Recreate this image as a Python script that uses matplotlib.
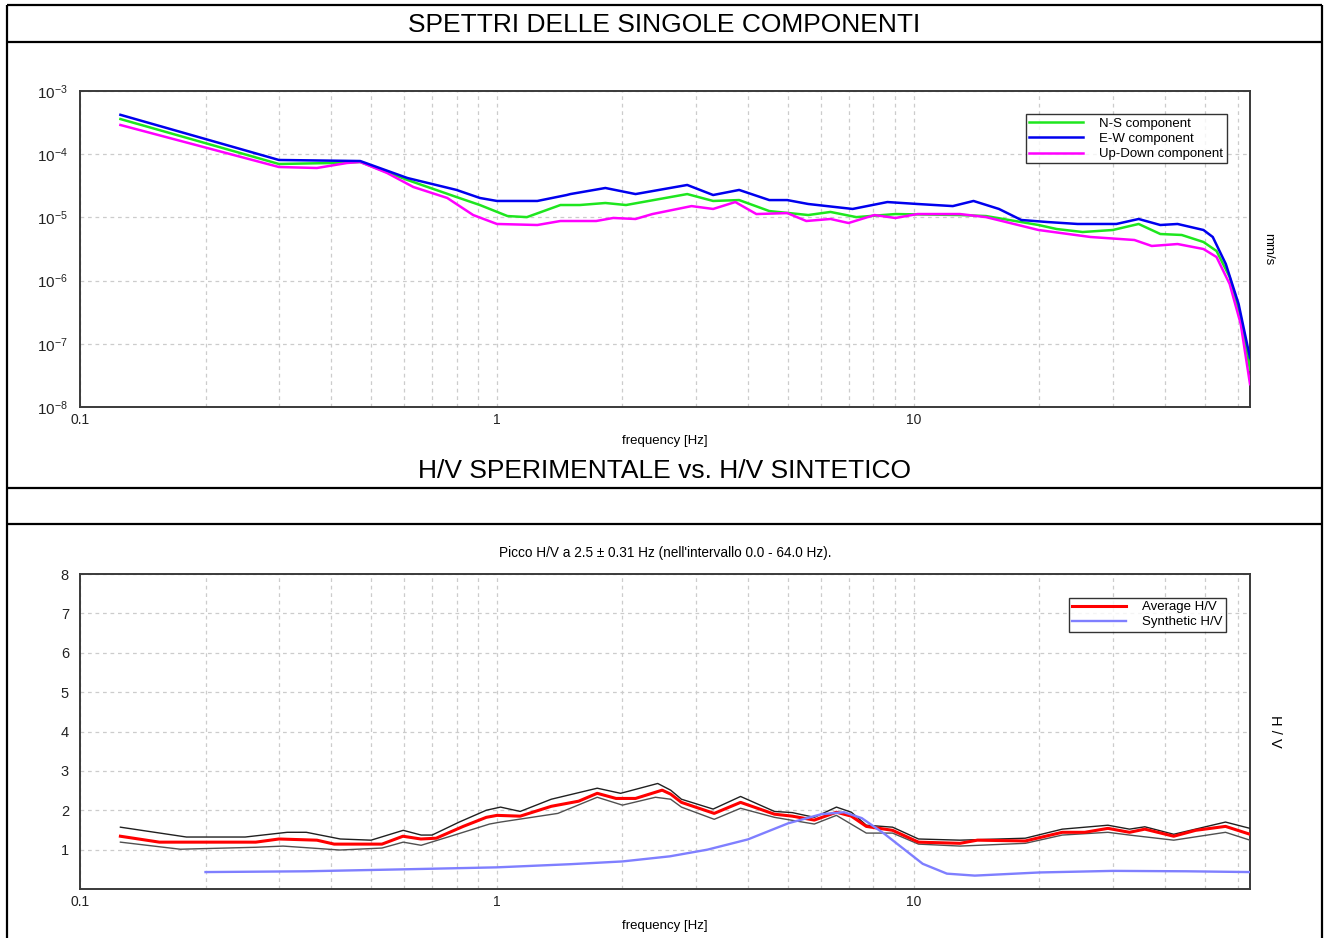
import matplotlib
matplotlib.use("Agg")
import matplotlib.pyplot as plt
from matplotlib.lines import Line2D
from matplotlib.ticker import LogLocator, FixedLocator, NullFormatter, FuncFormatter, NullLocator
import numpy as np

plt.rcParams['font.family'] = ['Liberation Sans', 'DejaVu Sans']
plt.rcParams['mathtext.fontset'] = 'custom'
plt.rcParams['mathtext.rm'] = 'Liberation Sans'
plt.rcParams['mathtext.it'] = 'Liberation Sans'

# ---------------- data: single component spectra (mm/s) ----------------
ew_freq = [0.125, 0.30, 0.47, 0.61, 0.80, 0.91, 1.0, 1.25, 1.47, 1.50, 1.82, 2.15, 2.86, 3.30, 3.81,
           4.50, 4.97, 5.58, 7.13, 8.64, 10.2, 12.4, 13.9, 16.0, 18.1, 20.9, 24.7, 30.6, 34.6, 39.0,
           42.9, 49.5, 52.1, 56.0, 60.1, 64.0]
ew_amp = [4.2e-4, 8.1e-5, 7.8e-5, 4.2e-5, 2.72e-5, 2.03e-5, 1.82e-5, 1.82e-5, 2.26e-5, 2.34e-5,
          2.92e-5, 2.34e-5, 3.26e-5, 2.26e-5, 2.72e-5, 1.88e-5, 1.88e-5, 1.63e-5, 1.36e-5, 1.75e-5,
          1.63e-5, 1.51e-5, 1.82e-5, 1.36e-5, 9.1e-6, 8.45e-6, 7.87e-6, 7.87e-6, 9.44e-6, 7.58e-6,
          7.87e-6, 6.32e-6, 4.9e-6, 1.83e-6, 4.26e-7, 6.0e-8]

ns_freq = [0.125, 0.30, 0.405, 0.47, 0.61, 0.80, 0.91, 1.06, 1.18, 1.42, 1.58, 1.82, 2.04, 2.86,
           3.30, 3.81, 4.50, 5.58, 6.31, 7.28, 9.03, 12.9, 14.9, 19.9, 22.0, 25.4, 30.0, 34.6, 39.0,
           43.9, 49.5, 53.2, 57.2, 60.8, 64.0]
ns_amp = [3.6e-4, 7.0e-5, 7.26e-5, 7.53e-5, 3.91e-5, 2.10e-5, 1.57e-5, 1.05e-5, 1.01e-5, 1.57e-5,
          1.57e-5, 1.69e-5, 1.57e-5, 2.34e-5, 1.82e-5, 1.88e-5, 1.26e-5, 1.09e-5, 1.22e-5, 1.01e-5,
          1.13e-5, 1.09e-5, 1.05e-5, 7.58e-6, 6.55e-6, 5.87e-6, 6.32e-6, 7.87e-6, 5.46e-6, 5.27e-6,
          4.08e-6, 2.94e-6, 1.14e-6, 2.66e-7, 3.9e-8]

ud_freq = [0.125, 0.30, 0.37, 0.437, 0.47, 0.545, 0.63, 0.76, 0.877, 1.0, 1.25, 1.42, 1.73, 1.90,
           2.15, 2.36, 2.93, 3.30, 3.73, 4.19, 4.97, 5.52, 6.31, 6.97, 8.04, 9.03, 10.2, 12.9, 14.9,
           19.9, 26.5, 33.8, 37.2, 42.9, 49.5, 53.2, 57.2, 60.8, 64.0]
ud_amp = [2.9e-4, 6.27e-5, 6.05e-5, 7.26e-5, 7.53e-5, 5.05e-5, 3.03e-5, 2.03e-5, 1.09e-5, 7.87e-6,
          7.58e-6, 8.77e-6, 8.77e-6, 9.79e-6, 9.44e-6, 1.13e-5, 1.51e-5, 1.36e-5, 1.75e-5, 1.13e-5,
          1.17e-5, 8.77e-6, 9.44e-6, 8.15e-6, 1.09e-5, 9.79e-6, 1.13e-5, 1.13e-5, 1.01e-5, 6.32e-6,
          4.9e-6, 4.39e-6, 3.53e-6, 3.79e-6, 3.16e-6, 2.36e-6, 8.83e-7, 2.06e-7, 2.3e-8]

# ---------------- data: H/V ----------------
hv_freq = [0.125, 0.155, 0.264, 0.30, 0.37, 0.407, 0.53, 0.595, 0.657, 0.715, 0.83, 0.943, 1.0,
           1.137, 1.35, 1.57, 1.74, 1.93, 2.15, 2.49, 2.61, 2.77, 3.32, 3.84, 4.63, 5.11, 5.77,
           6.52, 7.08, 7.69, 8.89, 10.26, 12.9, 14.2, 18.5, 22.7, 25.7, 29.2, 32.9, 35.8, 42.0,
           47.4, 55.9, 64.0]
hv_mean = [1.34, 1.19, 1.19, 1.27, 1.24, 1.14, 1.14, 1.34, 1.27, 1.29, 1.59, 1.82, 1.87, 1.85,
           2.10, 2.23, 2.43, 2.30, 2.30, 2.51, 2.41, 2.20, 1.92, 2.20, 1.90, 1.85, 1.75, 1.95, 1.85,
           1.59, 1.49, 1.19, 1.16, 1.24, 1.22, 1.44, 1.44, 1.54, 1.44, 1.52, 1.34, 1.49, 1.59, 1.39]

hv_up_freq = [0.125, 0.18, 0.249, 0.314, 0.349, 0.421, 0.499, 0.596, 0.658, 0.699, 0.812, 0.943,
              1.02, 1.137, 1.35, 1.74, 1.98, 2.43, 2.61, 2.77, 3.30, 3.84, 4.63, 5.11, 5.77, 6.52,
              7.08, 7.69, 8.89, 10.26, 12.9, 18.5, 22.7, 29.2, 32.9, 35.8, 42.0, 55.9, 64.0]
hv_upper = [1.57, 1.32, 1.32, 1.44, 1.44, 1.27, 1.24, 1.49, 1.37, 1.37, 1.70, 2.00, 2.08, 1.97,
            2.28, 2.56, 2.43, 2.68, 2.51, 2.28, 2.03, 2.35, 1.97, 1.94, 1.82, 2.08, 1.95, 1.62,
            1.57, 1.27, 1.24, 1.29, 1.52, 1.62, 1.52, 1.58, 1.39, 1.70, 1.54]

hv_lo_freq = [0.125, 0.174, 0.264, 0.307, 0.42, 0.53, 0.596, 0.658, 0.83, 0.96, 1.02, 1.40, 1.74,
              2.00, 2.40, 2.61, 2.77, 3.32, 3.84, 4.63, 5.77, 6.52, 7.69, 8.89, 10.26, 12.9, 18.5,
              22.7, 29.2, 32.9, 42.0, 55.9, 64.0]
hv_lower = [1.19, 1.01, 1.06, 1.09, 0.99, 1.04, 1.19, 1.11, 1.44, 1.65, 1.70, 1.92, 2.33, 2.13,
            2.33, 2.28, 2.08, 1.77, 2.05, 1.82, 1.65, 1.87, 1.42, 1.42, 1.14, 1.09, 1.16, 1.37,
            1.44, 1.37, 1.24, 1.44, 1.24]

syn_freq = [0.2, 0.35, 0.6, 1.0, 1.5, 2.0, 2.6, 3.2, 4.0, 5.0, 6.0, 6.8, 7.5, 8.5, 9.5, 10.5, 12.0,
            14.0, 20.0, 30.0, 45.0, 64.0]
syn_hv = [0.43, 0.45, 0.50, 0.55, 0.63, 0.70, 0.83, 1.00, 1.26, 1.67, 1.90, 1.95, 1.80, 1.40,
          1.00, 0.64, 0.39, 0.34, 0.42, 0.46, 0.45, 0.43]

# ---------------- figure ----------------
W, H = 1324, 938
fig = plt.figure(figsize=(W / 100, H / 100), dpi=100)

def fx(px):
    return px / W

def fy(py):
    return 1 - py / H

# frame lines
frame_kw = dict(color='black', lw=1.6, transform=fig.transFigure, solid_capstyle='butt')
for yy in (5, 42, 488, 524):
    fig.add_artist(Line2D([fx(7), fx(1322)], [fy(yy), fy(yy)], **frame_kw))
for xx in (7, 1322):
    fig.add_artist(Line2D([fx(xx), fx(xx)], [fy(5), fy(940)], **frame_kw))

fig.text(fx(664), fy(25), 'SPETTRI DELLE SINGOLE COMPONENTI', ha='center', va='center', fontsize=19)
fig.text(fx(664), fy(471), 'H/V SPERIMENTALE vs. H/V SINTETICO', ha='center', va='center', fontsize=19)

grid_kw = dict(color='#cccccc', ls=(0, (3, 3)), lw=0.9)
spine_col = '#3a3a3a'

def style_axes(ax):
    for s in ax.spines.values():
        s.set_color(spine_col)
        s.set_linewidth(1.4)
    ax.tick_params(which='both', length=0, labelsize=10, colors='#222222')
    ax.set_xscale('log')
    ax.set_xlim(0.1, 64)
    ax.xaxis.set_major_locator(FixedLocator([0.1, 1, 10]))
    ax.xaxis.set_major_formatter(FuncFormatter(lambda v, p: {0.1: '0.1', 1: '1', 10: '10'}.get(round(v, 3), '')))
    ax.xaxis.set_minor_locator(LogLocator(base=10, subs=np.arange(2, 10)))
    ax.xaxis.set_minor_formatter(NullFormatter())
    ax.grid(True, which='both', axis='x', **grid_kw)
    ax.grid(True, which='major', axis='y', **grid_kw)
    ax.set_axisbelow(True)

legend_kw = dict(loc='upper right', frameon=True, fancybox=False, edgecolor='black',
                 handlelength=4.1, handletextpad=1.2, labelspacing=0.22, borderpad=0.25,
                 borderaxespad=0, fontsize=9.5)

# ---- top axes ----
ax1 = fig.add_axes([fx(80), fy(407), fx(1250) - fx(80), fy(91) - fy(407)])
style_axes(ax1)
ax1.set_yscale('log')
ax1.set_ylim(1e-8, 1e-3)
ax1.yaxis.set_major_locator(FixedLocator([1e-8, 1e-7, 1e-6, 1e-5, 1e-4, 1e-3]))
ax1.yaxis.set_major_formatter(FuncFormatter(lambda v, p: r'$10^{%d}$' % round(np.log10(v))))
ax1.yaxis.set_minor_locator(NullLocator())
ax1.tick_params(axis='y', pad=9, labelsize=11)
ax1.tick_params(axis='x', pad=4)
ax1.plot(ns_freq, ns_amp, color='#1ee61e', lw=1.8, label='N-S component', zorder=3)
ax1.plot(ud_freq, ud_amp, color='#ff00ff', lw=1.8, label='Up-Down component', zorder=3)
ax1.plot(ew_freq, ew_amp, color='#0000ee', lw=1.8, label='E-W component', zorder=4)
h, l = ax1.get_legend_handles_labels()
order = [0, 2, 1]
leg1 = ax1.legend([h[i] for i in order], [l[i] for i in order],
                  bbox_to_anchor=(0.98, 0.926), **legend_kw)
leg1.get_frame().set_linewidth(1.0)
ax1.set_xlabel('frequency [Hz]', fontsize=9.5, labelpad=6)
ax1.text(1.01, 0.5, 'mm/s', transform=ax1.transAxes, rotation=-90, ha='left', va='center', fontsize=9.5)

# ---- bottom axes ----
ax2 = fig.add_axes([fx(80), fy(889), fx(1250) - fx(80), fy(574) - fy(889)])
style_axes(ax2)
ax2.set_ylim(0, 8)
ax2.yaxis.set_major_locator(FixedLocator([1, 2, 3, 4, 5, 6, 7, 8]))
ax2.yaxis.set_major_formatter(FuncFormatter(lambda v, p: '%d' % v))
ax2.tick_params(axis='y', pad=8, labelsize=10.5)
ax2.tick_params(axis='x', pad=4)
ax2.plot(hv_up_freq, hv_upper, color='#202020', lw=1.0, zorder=3)
ax2.plot(hv_lo_freq, hv_lower, color='#505050', lw=1.0, zorder=3)
ax2.plot(hv_freq, hv_mean, color='#ff0000', lw=2.2, label='Average H/V', zorder=4)
ax2.plot(syn_freq, syn_hv, color='#7f7fff', lw=1.7, label='Synthetic H/V', zorder=5)
leg2 = ax2.legend(bbox_to_anchor=(0.9795, 0.925), **legend_kw)
leg2.get_frame().set_linewidth(1.0)
ax2.set_title("Picco H/V a 2.5 ± 0.31 Hz (nell'intervallo 0.0 - 64.0 Hz).", fontsize=9.8, pad=12)
ax2.set_xlabel('frequency [Hz]', fontsize=9.5, labelpad=8)
ax2.text(1.015, 0.5, 'H / V', transform=ax2.transAxes, rotation=-90, ha='left', va='center', fontsize=10.5)

fig.savefig('out.png', dpi=100)
